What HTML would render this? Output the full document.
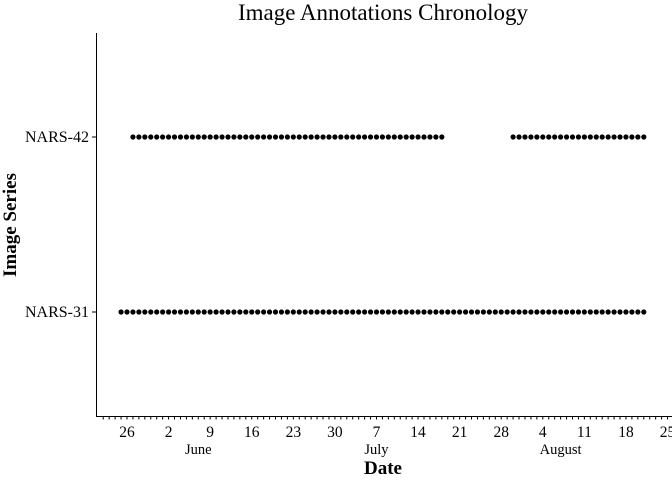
<!DOCTYPE html>
<html><head><meta charset="utf-8"><style>
body{margin:0;background:#fff;}
svg{display:block;font-family:"Liberation Serif",serif;}
</style></head><body>
<svg id="chart" width="672" height="480">
<text x="383" y="20" text-anchor="middle" font-size="23">Image Annotations Chronology</text>
<text x="383" y="474" text-anchor="middle" font-size="19" font-weight="bold">Date</text>
<text transform="translate(16,225) rotate(-90)" text-anchor="middle" font-size="19" font-weight="bold">Image Series</text>
<g id="axes"></g>
<g id="marks"></g>
</svg>
<script>
const series = ["NARS-31","NARS-42"];
// date ranges (inclusive) with daily annotations, per series
const nars31Ranges = [["2024-05-25","2024-08-21"]];
const nars42Ranges = [["2024-05-27","2024-07-18"],["2024-07-30","2024-08-21"]];
const tickLabels = ["26","2","9","16","23","30","7","14","21","28","4","11","18","25"];
const tickDates = ["2024-05-26","2024-06-02","2024-06-09","2024-06-16","2024-06-23","2024-06-30","2024-07-07","2024-07-14","2024-07-21","2024-07-28","2024-08-04","2024-08-11","2024-08-18","2024-08-25"];
const monthLabels = ["June","July","August"];
const monthDates = ["2024-06-07","2024-07-07","2024-08-07"];

const NS="http://www.w3.org/2000/svg";
const DAY=86400000;
const d0=Date.parse("2024-05-26");
const x=d=>127+(Date.parse(d)-d0)/DAY*5.94;
const yPos={"NARS-31":312,"NARS-42":137};
const y=s=>yPos[s];
function mk(tag,attrs,parent){const e=document.createElementNS(NS,tag);for(const k in attrs)e.setAttribute(k,attrs[k]);parent.appendChild(e);return e;}
const axes=document.getElementById('axes'), marks=document.getElementById('marks');

let e=mk('line',{x1:96.5,y1:33,x2:96.5,y2:416.5,stroke:'#000','stroke-width':1},axes);


e=mk('line',{x1:96,y1:416.5,x2:672,y2:416.5,stroke:'#000','stroke-width':1},axes);


for(let t=Date.parse("2024-05-22");t<=Date.parse("2024-08-26");t+=DAY){
  const xx=127+(t-d0)/DAY*5.94;
  if(xx<97)continue;
  e=mk('line',{x1:xx,y1:416,x2:xx,y2:419.5,stroke:'#000','stroke-width':1},axes);
  
  
}
tickDates.forEach((d,i)=>{
  e=mk('text',{x:x(d),y:437,'text-anchor':'middle','font-size':15.5},axes);
  e.textContent=tickLabels[i];
  
  
});
monthDates.forEach((d,i)=>{
  e=mk('text',{x:x(d),y:454,'text-anchor':'middle','font-size':14.5},axes);
  e.textContent=monthLabels[i];
  
  
});
series.forEach(s=>{
  e=mk('line',{x1:92,y1:y(s),x2:96,y2:y(s),stroke:'#000'},axes);
  
  
  e=mk('text',{x:89,y:y(s)+5,'text-anchor':'end','font-size':16},axes);
  e.textContent=s;
  
  
});
function drawRanges(s,ranges){
  ranges.forEach(([a,b])=>{
    for(let t=Date.parse(a);t<=Date.parse(b);t+=DAY){
      const ds=new Date(t).toISOString().slice(0,10);
      const c=mk('circle',{cx:x(ds),cy:y(s),r:2.6,fill:'#000'},marks);
      
      
    }
  });
}
drawRanges("NARS-31",nars31Ranges);
drawRanges("NARS-42",nars42Ranges);
</script>
</body></html>
